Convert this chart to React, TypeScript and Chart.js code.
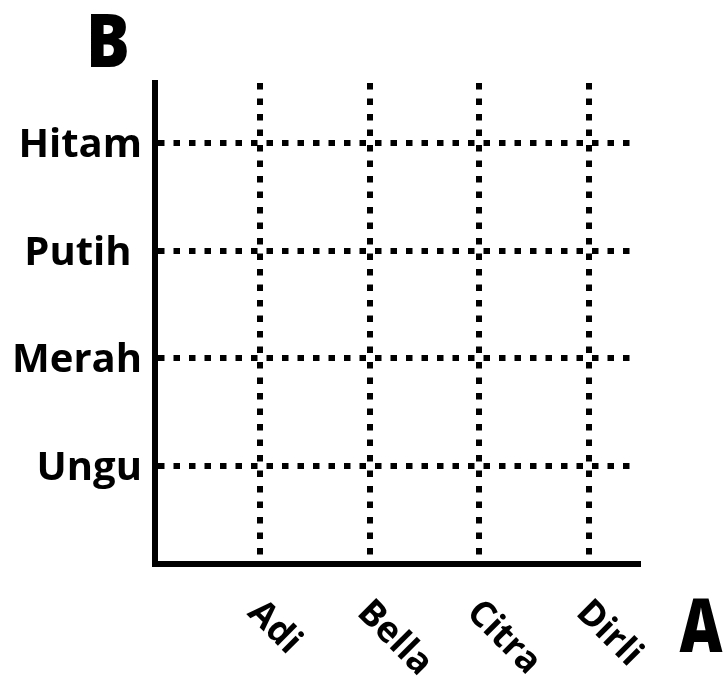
import React, { useEffect, useRef } from "react";
import { Chart, registerables } from "chart.js";

Chart.register(...registerables);

const xCategories = ["Adi", "Bella", "Citra", "Dirli"];
const yCategories = ["Ungu", "Merah", "Putih ", "Hitam"];
const xTitle = "A";
const yTitle = "B";
const points: { x: number; y: number }[] = [];

const FONT = '"Open Sans", "Noto Sans", sans-serif';

const labelPlugin = {
  id: "customLabels",
  afterDraw(chart: any) {
    const ctx = chart.ctx as CanvasRenderingContext2D;
    const xs = chart.scales.x;
    const ys = chart.scales.y;
    const area = chart.chartArea;
    ctx.save();
    ctx.fillStyle = "#000";

    // y tick labels
    ctx.font = `bold 40px ${FONT}`;
    ctx.textAlign = "right";
    ctx.textBaseline = "alphabetic";
    yCategories.forEach((lab, i) => {
      const y = ys.getPixelForValue(i + 1);
      ctx.fillText(lab, area.left - 13, y + 14);
    });

    // x tick labels rotated clockwise
    ctx.font = `bold 36px ${FONT}`;
    ctx.textAlign = "left";
    xCategories.forEach((lab, i) => {
      const x = xs.getPixelForValue(i + 1);
      ctx.save();
      ctx.translate(x - 14, area.bottom + 50);
      ctx.rotate(Math.PI / 4);
      ctx.fillText(lab, 0, 0);
      ctx.restore();
    });

    // axis titles
    ctx.font = `800 74px ${FONT}`;
    ctx.textAlign = "center";
    ctx.save();
    ctx.translate(area.left - 47, area.top - 16);
    ctx.scale(0.88, 1);
    ctx.fillText(yTitle, 0, 0);
    ctx.restore();

    ctx.save();
    ctx.translate(area.right + 63, area.bottom + 88);
    ctx.scale(0.8, 1);
    ctx.fillText(xTitle, 0, 0);
    ctx.restore();

    ctx.restore();
  },
};

export default function App() {
  const ref = useRef<HTMLCanvasElement | null>(null);

  useEffect(() => {
    document.body.style.margin = "0";
    if (!ref.current) return;
    const chart = new Chart(ref.current, {
      type: "scatter",
      data: {
        datasets: [
          {
            data: points,
            pointRadius: 0,
          },
        ],
      },
      options: {
        animation: false,
        responsive: false,
        devicePixelRatio: 1,
        layout: { padding: { left: 155, top: 83, right: 85, bottom: 118 } },
        plugins: {
          legend: { display: false },
          tooltip: { enabled: false },
        },
        scales: {
          x: {
            type: "linear",
            min: 0.04,
            max: 4.45,
            afterBuildTicks: (s: any) => {
              s.ticks = xCategories.map((_, i) => ({ value: i + 1 }));
            },
            ticks: { display: false },
            grid: { color: "#000", lineWidth: 6, drawTicks: false },
            border: { display: true, color: "#000", width: 6, dash: [6.5, 9] },
          },
          y: {
            type: "linear",
            min: 0.09,
            max: 4.557,
            afterBuildTicks: (s: any) => {
              s.ticks = yCategories.map((_, i) => ({ value: i + 1 }));
            },
            ticks: { display: false },
            grid: { color: "#000", lineWidth: 6, drawTicks: false },
            border: { display: true, color: "#000", width: 6, dash: [6.5, 9] },
          },
        },
      },
      plugins: [labelPlugin],
    });
    return () => chart.destroy();
  }, []);

  return (
    <div style={{ width: 723, height: 682, background: "#fff" }}>
      <canvas ref={ref} width={723} height={682} />
    </div>
  );
}
